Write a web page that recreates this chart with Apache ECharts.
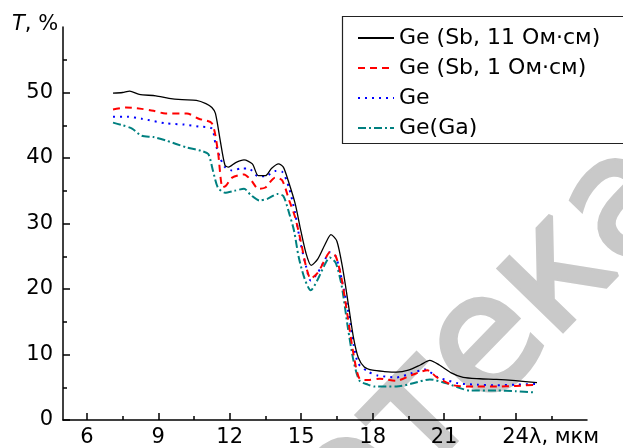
<!DOCTYPE html>
<html><head><meta charset="utf-8">
<script src="https://cdn.jsdelivr.net/npm/echarts@6/dist/echarts.min.js"></script>
<style>html,body{margin:0;padding:0;background:#fff}#c{width:623px;height:448px}</style>
</head><body><div id="c"></div>
<script>
const seriesNames = ['Ge (Sb, 11 Ом·см)', 'Ge (Sb, 1 Ом·см)', 'Ge', 'Ge(Ga)'];

const xSb11 = [7.1, 7.5, 7.8, 8.2, 8.9, 9.45, 10.0, 10.6, 11.0, 11.25, 11.4, 11.6, 11.8, 11.95, 12.25, 12.6, 12.95, 13.2, 13.5, 13.75, 14.05, 14.25, 14.45, 14.75, 14.95, 15.2, 15.42, 15.7, 16.0, 16.25, 16.5, 16.75, 17.0, 17.2, 17.4, 17.65, 18.0, 18.5, 19.0, 19.5, 20.0, 20.4, 20.8, 21.3, 21.8, 22.5, 23.2, 24.0, 24.9];
const ySb11 = [49.9, 50.0, 50.2, 49.7, 49.5, 49.1, 48.9, 48.8, 48.3, 47.7, 46.8, 42.7, 38.9, 38.6, 39.3, 39.7, 39.1, 37.3, 37.3, 38.4, 39.1, 38.6, 36.6, 33.0, 29.5, 25.5, 23.6, 24.6, 26.8, 28.3, 27.3, 23.0, 17.2, 12.5, 9.5, 8.1, 7.6, 7.4, 7.3, 7.6, 8.4, 9.1, 8.4, 7.2, 6.5, 6.3, 6.2, 6.0, 5.7];

const xSb1 = [7.1, 7.65, 8.3, 8.8, 9.3, 10.2, 10.7, 11.25, 11.5, 11.7, 11.85, 12.1, 12.6, 12.9, 13.2, 13.5, 13.9, 14.2, 14.5, 14.75, 15.0, 15.2, 15.4, 15.7, 16.0, 16.2, 16.45, 16.7, 16.96, 17.2, 17.45, 17.8, 18.3, 19.0, 19.6, 20.3, 20.7, 21.4, 22.3, 23.2, 24.0, 24.9];
const ySb1 = [47.4, 47.7, 47.5, 47.2, 46.8, 46.8, 46.0, 45.3, 41.1, 35.5, 35.8, 37.0, 37.5, 36.6, 35.3, 35.5, 37.0, 36.6, 33.5, 30.9, 27.0, 23.5, 21.6, 22.5, 24.5, 25.6, 25.0, 21.5, 15.6, 10.0, 6.3, 6.1, 6.3, 6.0, 6.8, 7.6, 6.5, 5.3, 5.1, 5.1, 5.2, 5.4];

const xGe = [7.1, 7.7, 8.3, 9.3, 10.1, 10.7, 11.25, 11.4, 11.6, 11.8, 12.1, 12.5, 12.8, 13.2, 13.5, 13.9, 14.2, 14.5, 14.75, 14.95, 15.2, 15.4, 15.7, 16.0, 16.2, 16.45, 16.7, 17.0, 17.2, 17.4, 17.8, 18.2, 19.0, 19.6, 20.2, 20.7, 21.6, 22.4, 23.2, 24.0, 24.9];
const yGe = [46.3, 46.3, 46.0, 45.3, 45.1, 44.8, 44.5, 42.2, 40.0, 38.6, 38.1, 38.4, 38.4, 37.2, 37.2, 38.0, 37.9, 35.3, 31.5, 27.4, 23.5, 21.3, 22.5, 24.5, 25.6, 25.0, 21.5, 16.1, 11.5, 8.6, 7.4, 6.8, 6.5, 7.1, 7.7, 6.6, 5.6, 5.4, 5.3, 5.4, 5.5];

const xGa = [7.1, 7.5, 7.9, 8.3, 8.8, 9.3, 10.2, 10.8, 11.1, 11.3, 11.5, 11.8, 12.2, 12.6, 12.9, 13.25, 13.6, 14.0, 14.25, 14.5, 14.7, 14.9, 15.15, 15.4, 15.7, 16.0, 16.2, 16.45, 16.7, 16.96, 17.2, 17.45, 17.8, 18.1, 19.0, 19.7, 20.4, 21.1, 22.1, 23.2, 24.0, 24.8];
const yGa = [45.4, 45.0, 44.5, 43.4, 43.2, 42.7, 41.6, 41.1, 40.6, 38.0, 35.5, 34.7, 35.0, 35.3, 34.3, 33.5, 33.8, 34.5, 34.2, 31.5, 28.9, 24.8, 21.5, 19.8, 21.5, 23.8, 24.8, 24.0, 20.5, 14.1, 9.0, 6.0, 5.4, 5.1, 5.1, 5.6, 6.2, 5.6, 4.5, 4.5, 4.4, 4.2];

const xMajorTicks = [6, 9, 12, 15, 18, 21, 24];
const xMinorTicks = [7.5, 10.5, 13.5, 16.5, 19.5, 22.5, 25.5];
const yMajorTicks = [0, 10, 20, 30, 40, 50];
const yMinorTicks = [5, 15, 25, 35, 45, 55];

const FONT = 'DejaVu Sans';
const pairs = (xs, ys) => xs.map((x, i) => [x, ys[i]]);

const chart = echarts.init(document.getElementById('c'), null, {renderer: 'canvas'});
const axisLineStyle = {color: '#000', width: 1.5};

const styles = [
  {color: '#000000', width: 1.3, type: 'solid'},
  {color: '#ff0000', width: 2, type: [7, 5]},
  {color: '#0000ff', width: 2, type: [2, 5]},
  {color: '#008080', width: 2, type: [8, 3, 2, 3]}
];
const datas = [pairs(xSb11, ySb11), pairs(xSb1, ySb1), pairs(xGe, yGe), pairs(xGa, yGa)];

chart.setOption({
  animation: false,
  backgroundColor: '#fff',
  grid: {left: 63, right: 36, top: 27, bottom: 28},
  graphic: [
    {type: 'text', z: -10, x: 660, y: 170, rotation: 0.8,
     style: {text: 'библиотека', font: '162px "DejaVu Sans"', fill: '#c9c9c9', stroke: '#c9c9c9', lineWidth: 5, textAlign: 'right', textVerticalAlign: 'middle'}},
    {type: 'rect', z: 10, shape: {x: 342.5, y: 16.5, width: 400, height: 127},
     style: {fill: 'rgba(0,0,0,0)', stroke: '#222', lineWidth: 1.2}},
    {type: 'text', x: 12, y: 25,
     style: {text: '{t|T}, %', rich: {t: {fontStyle: 'italic', fontSize: 21, fontFamily: FONT, fill: '#000'}}, fontSize: 21, fontFamily: FONT, fill: '#000', verticalAlign: 'middle'}},
    {type: 'text', x: 529, y: 438,
     style: {text: 'λ, мкм', fontSize: 21, fontFamily: FONT, fill: '#000', verticalAlign: 'middle'}}
  ],
  legend: {
    orient: 'vertical', left: 342, top: 16,
    padding: [9, 10, 3, 15], itemGap: 4, itemWidth: 36, itemHeight: 14,
    borderWidth: 0, backgroundColor: '#fff',
    itemStyle: {opacity: 0},
    textStyle: {fontSize: 22, fontFamily: FONT, color: '#000', lineHeight: 26},
    data: seriesNames
  },
  xAxis: [
    {type: 'value', min: 5, max: 27,
     axisLine: {lineStyle: axisLineStyle},
     axisTick: {inside: true, length: 7, customValues: xMajorTicks, lineStyle: axisLineStyle},
     axisLabel: {customValues: xMajorTicks, fontSize: 21, fontFamily: FONT, color: '#000', margin: 7},
     splitLine: {show: false}},
    {type: 'value', position: 'bottom', min: 5, max: 27,
     axisLine: {show: false},
     axisTick: {inside: true, length: 4, customValues: xMinorTicks, lineStyle: axisLineStyle},
     axisLabel: {show: false}, splitLine: {show: false}}
  ],
  yAxis: [
    {type: 'value', min: 0, max: 60,
     axisLine: {lineStyle: axisLineStyle},
     axisTick: {inside: true, length: 7, customValues: yMajorTicks, lineStyle: axisLineStyle},
     axisLabel: {customValues: yMajorTicks, fontSize: 21, fontFamily: FONT, color: '#000', margin: 10},
     splitLine: {show: false}},
    {type: 'value', position: 'left', min: 0, max: 60,
     axisLine: {show: false},
     axisTick: {inside: true, length: 4, customValues: yMinorTicks, lineStyle: axisLineStyle},
     axisLabel: {show: false}, splitLine: {show: false}}
  ],
  series: seriesNames.map((name, i) => ({
    name, type: 'line', xAxisIndex: 0, yAxisIndex: 0,
    data: datas[i], symbol: 'none', smooth: 0.25,
    lineStyle: styles[i], itemStyle: {color: styles[i].color},
    z: 5 - i
  }))
});
</script></body></html>
